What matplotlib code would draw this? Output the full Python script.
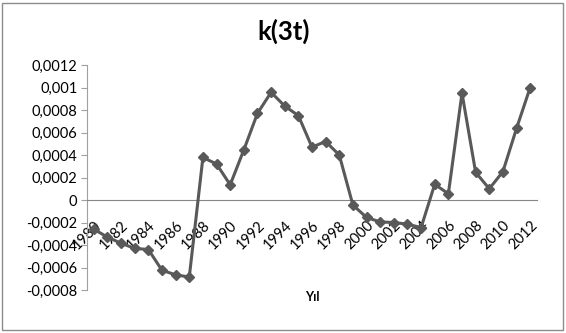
import numpy as np
import matplotlib.pyplot as plt
import matplotlib.transforms as mtransforms
from matplotlib.patches import Rectangle
from matplotlib.ticker import FuncFormatter

years = list(range(1980, 2013))
k3t = [-0.00026, -0.00033, -0.000385, -0.00043, -0.00044, -0.000625, -0.000665, -0.000685,
       0.000378, 0.00032, 0.000135, 0.000445, 0.00077, 0.000957, 0.000835, 0.00075,
       0.00047, 0.00052, 0.0004, -0.000045, -0.000155, -0.000195, -0.0002, -0.000215,
       -0.000245, 0.00014, 0.000055, 0.00095, 0.000246, 0.0001, 0.000252, 0.000637, 0.001]
tick_years = years[::2]

plt.rcParams['font.family'] = ['Lato', 'DejaVu Sans']

fig = plt.figure(figsize=(5.66, 3.33), dpi=100)
ax = fig.add_axes([87/566, 1-290/333, 450/566, 225/333])

x = np.arange(len(years))
ax.plot(x, k3t, color='#595959', lw=2.2, marker='D', ms=5.5, zorder=3)

ax.set_xlim(-0.5, len(years)-0.5)
ax.set_ylim(-0.0008, 0.0012)
ax.set_yticks(np.arange(-0.0008, 0.00121, 0.0002))

def fmt(v, pos):
    # excel "general" style: comma decimal, no trailing zeros
    if abs(v) < 1e-12:
        return '0'
    return ('%.4f' % v).rstrip('0').replace('.', ',')
ax.yaxis.set_major_formatter(FuncFormatter(fmt))

ax.spines['top'].set_visible(False)
ax.spines['right'].set_visible(False)
ax.spines['left'].set_color('#a0a0a0')
ax.spines['bottom'].set_color('#868686')
ax.spines['bottom'].set_position(('data', 0))
ax.tick_params(axis='y', length=4, color='#a0a0a0', labelsize=10.5, pad=3)
ax.set_xticks(x[::2])
ax.set_xticklabels([str(y) for y in tick_years], rotation=45, ha='right', va='center',
                   rotation_mode='anchor', fontsize=10.5)
ax.tick_params(axis='x', length=0, pad=17)
shift = mtransforms.ScaledTranslation(5/100, 0, fig.dpi_scale_trans)
for lab in ax.get_xticklabels():
    lab.set_transform(lab.get_transform() + shift)

fig.text(284/566, 1-31/333, 'k(3t)', ha='center', va='center', fontsize=18.5, fontweight='bold')
fig.text(312/566, 1-297/333, 'Yıl', ha='center', va='center', fontsize=9, fontweight='bold')

fig.patches.append(Rectangle((2/566, 3/333), 561/566, 327/333, transform=fig.transFigure,
                             fill=False, edgecolor='#8c8c8c', lw=1))

fig.savefig('out.png', dpi=100)
